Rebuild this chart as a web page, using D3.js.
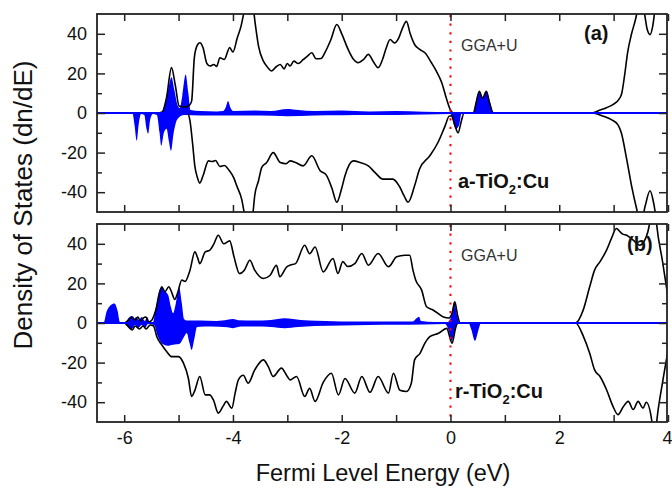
<!DOCTYPE html>
<html><head><meta charset="utf-8">
<script src="https://cdn.jsdelivr.net/npm/d3@7"></script>
<style>
body{margin:0;background:#fff}
svg{display:block}
text{font-family:"Liberation Sans",Arial,Helvetica,sans-serif}
</style>
</head><body>
<svg id="c" width="672" height="488"></svg>
<script>
// ---------- data: [energy (eV), DOS] ----------
const X_TICKS = [-6,-5,-4,-3,-2,-1,0,1,2,3,4];
const X_LABELS = [-6,-4,-2,0,2,4];
const Y_TICKS = [-40,-30,-20,-10,0,10,20,30,40];
const Y_LABELS = [-40,-20,0,20,40];

// panel (a) a-TiO2:Cu, total DOS spin up
const aTotalUp = [[-6.5,0],[-5.4,0],[-5.3,0.5],[-5.22,8],[-5.13,22.9],[-5.06,14],[-4.99,3.5],[-4.88,3],[-4.8,4],[-4.76,6],[-4.71,28],[-4.66,34],[-4.61,35.5],[-4.55,33],[-4.48,25],[-4.42,23.7],[-4.35,24.5],[-4.3,23.5],[-4.24,27.9],[-4.16,27],[-4.06,33],[-4.0,30.8],[-3.92,38],[-3.85,44],[-3.79,52],[-3.72,62],[-3.64,56],[-3.59,45],[-3.53,33.8],[-3.44,26.2],[-3.36,23],[-3.29,21.2],[-3.2,23.5],[-3.13,24.5],[-3.06,22.3],[-3.0,25],[-2.95,23.7],[-2.88,26.2],[-2.8,25],[-2.71,26.9],[-2.62,29],[-2.55,30.4],[-2.47,27.4],[-2.38,27.5],[-2.3,31],[-2.2,37],[-2.09,44.7],[-2.0,40],[-1.88,32],[-1.78,27],[-1.7,25.4],[-1.6,27],[-1.51,29.6],[-1.42,26],[-1.33,22.9],[-1.25,27],[-1.18,33],[-1.11,37.1],[-1.03,35.4],[-0.95,38],[-0.88,43],[-0.81,46.3],[-0.74,40],[-0.66,34.6],[-0.56,32],[-0.47,30.4],[-0.35,25.4],[-0.26,21.2],[-0.16,15.3],[-0.07,6.9],[0.01,1],[0.06,0],[0.42,0],[0.47,5],[0.53,11],[0.59,7.5],[0.66,11],[0.72,5],[0.79,0],[2.6,0],[2.75,1.5],[2.87,2.7],[3.0,4.5],[3.1,7],[3.15,10],[3.2,18.6],[3.26,31],[3.33,40],[3.4,47],[3.45,53],[3.52,58],[3.57,50],[3.62,42],[3.67,39.6],[3.72,44],[3.76,52],[3.85,62],[4.0,68]];
// panel (a) total DOS spin down
const aTotalDn = [[-6.5,0],[-4.84,0],[-4.79,-4],[-4.74,-16],[-4.7,-27],[-4.66,-32],[-4.61,-35.4],[-4.55,-31.7],[-4.45,-24.2],[-4.38,-24.5],[-4.32,-24],[-4.24,-27],[-4.16,-26.5],[-4.07,-29],[-3.98,-33],[-3.93,-36.8],[-3.84,-43.5],[-3.78,-52],[-3.7,-60],[-3.63,-50],[-3.6,-41.8],[-3.53,-34.2],[-3.47,-27.5],[-3.38,-25],[-3.26,-20],[-3.13,-25],[-3.02,-25.6],[-2.95,-24.2],[-2.85,-25],[-2.71,-26.7],[-2.55,-21.6],[-2.4,-29],[-2.28,-31.5],[-2.18,-38],[-2.09,-45.1],[-2.0,-38],[-1.94,-31.7],[-1.79,-24.2],[-1.66,-25],[-1.51,-26.7],[-1.39,-30],[-1.24,-33.4],[-1.06,-33.4],[-0.94,-37],[-0.85,-42],[-0.78,-45.1],[-0.66,-36.8],[-0.57,-28.4],[-0.38,-21.6],[-0.23,-14.9],[-0.1,-6.6],[-0.02,-1.5],[0.03,-1.5],[0.08,-6],[0.14,-10],[0.2,-4],[0.25,0],[2.6,0],[2.8,-1.5],[2.95,-3.2],[3.08,-6],[3.14,-9.9],[3.24,-23.3],[3.33,-36.8],[3.42,-48],[3.5,-56],[3.58,-47],[3.67,-39.3],[3.74,-46],[3.8,-56],[4.0,-68]];
// panel (a) Cu partial DOS
const aCuUp = [[-6.5,0],[-5.32,0],[-5.26,4],[-5.19,12],[-5.13,18],[-5.08,12],[-5.02,4],[-4.98,2.5],[-4.93,9],[-4.87,19.5],[-4.82,10],[-4.78,1.5],[-4.6,1],[-4.3,0.8],[-4.18,1],[-4.13,3],[-4.09,6],[-4.05,3],[-4.0,1],[-3.6,1.2],[-3.3,1],[-3.0,2],[-2.8,1.5],[-2.5,1],[-2.0,1.3],[-1.5,0.8],[-1.0,1],[-0.5,0.6],[0,0.3],[0.42,0],[0.47,6],[0.53,11],[0.59,7.5],[0.66,11],[0.72,6],[0.79,0],[4,0]];
const aCuDn = [[-6.5,0],[-5.85,0],[-5.81,-6],[-5.77,-14],[-5.73,-5],[-5.69,-0.5],[-5.63,-1],[-5.59,-8],[-5.56,-10.5],[-5.52,-3],[-5.47,-0.5],[-5.4,-1],[-5.35,-10],[-5.32,-16.6],[-5.27,-10],[-5.22,-8],[-5.18,-14],[-5.14,-19.1],[-5.09,-10],[-5.02,-3],[-4.9,-1],[-4.6,-1.3],[-4.0,-1.2],[-3.5,-1.3],[-3.0,-1.6],[-2.5,-1.2],[-2.0,-1.1],[-1.5,-1],[-1.0,-1],[-0.5,-0.7],[0,-0.5],[0.03,-3],[0.1,-8],[0.16,-6],[0.2,-0.5],[0.3,0],[4,0]];

// panel (b) r-TiO2:Cu, total DOS spin up
const bTotalUp = [[-6.5,0],[-6.0,0],[-5.92,1.5],[-5.85,3],[-5.8,1.5],[-5.75,3],[-5.7,1],[-5.65,2.5],[-5.6,3],[-5.55,0.5],[-5.49,1.5],[-5.4,8.2],[-5.31,18.3],[-5.25,15.8],[-5.18,18.3],[-5.12,15],[-5.07,11.9],[-5.02,15],[-4.94,21.7],[-4.88,21],[-4.79,26.7],[-4.7,35.9],[-4.65,33],[-4.61,30],[-4.51,35.9],[-4.43,36.7],[-4.35,40],[-4.27,44.3],[-4.17,40],[-4.06,41.5],[-3.98,33.4],[-3.88,25],[-3.79,26.7],[-3.69,31.7],[-3.6,26.7],[-3.44,22.5],[-3.32,24],[-3.2,29.2],[-3.14,23.4],[-3.01,28.4],[-2.95,29.2],[-2.85,30],[-2.68,39.3],[-2.59,35],[-2.49,38.4],[-2.34,25.8],[-2.16,32.6],[-2.07,25],[-1.98,31],[-1.89,28.5],[-1.76,30],[-1.63,35.1],[-1.51,29.2],[-1.33,35.1],[-1.14,28.4],[-0.99,33.4],[-0.84,34.2],[-0.75,34.2],[-0.69,26.7],[-0.64,21.7],[-0.53,16.6],[-0.44,8.2],[-0.32,6.6],[-0.14,3.2],[-0.03,2.5],[0.03,5],[0.08,10.7],[0.13,4],[0.18,0],[2.3,0],[2.44,6.5],[2.56,18.3],[2.65,26.7],[2.75,31],[2.87,36.8],[2.96,42.7],[3.05,47.7],[3.12,46],[3.16,45],[3.24,44.3],[3.36,41.8],[3.48,39.3],[3.6,43.5],[3.66,50],[3.71,60],[3.75,62],[3.79,50],[3.9,31],[4.0,13]];
const bTotalDn = [[-6.5,0],[-6.0,0],[-5.92,-2],[-5.85,-3.5],[-5.8,-1.5],[-5.72,-3],[-5.65,-1.5],[-5.6,-3],[-5.52,-1],[-5.46,-1.5],[-5.4,-6.9],[-5.31,-11],[-5.22,-14.4],[-5.13,-17],[-5.0,-17],[-4.91,-20.3],[-4.82,-27.9],[-4.76,-37.1],[-4.7,-34],[-4.61,-27],[-4.51,-36.3],[-4.43,-36.3],[-4.36,-38.8],[-4.27,-45.5],[-4.18,-42],[-4.12,-39.6],[-4.02,-43],[-3.96,-35.4],[-3.9,-28.7],[-3.81,-26.4],[-3.72,-30.4],[-3.6,-23.7],[-3.44,-18.6],[-3.35,-22],[-3.26,-27],[-3.11,-22.8],[-3.0,-27],[-2.95,-28.7],[-2.83,-27],[-2.68,-37.1],[-2.59,-33],[-2.49,-39.6],[-2.34,-30],[-2.19,-25.4],[-2.06,-36.3],[-1.94,-28],[-1.76,-35.4],[-1.63,-27],[-1.48,-35],[-1.33,-27],[-1.14,-35.4],[-1.05,-25.4],[-0.93,-34],[-0.81,-34.6],[-0.72,-30.4],[-0.66,-18.6],[-0.56,-15.3],[-0.47,-10.2],[-0.38,-6.9],[-0.22,-5.2],[-0.07,-2.7],[0.03,-10.2],[0.09,-3],[0.13,0],[2.3,0],[2.44,-6.5],[2.56,-15.3],[2.65,-23.7],[2.75,-27],[2.87,-33.7],[2.99,-42.2],[3.08,-46.3],[3.18,-42.2],[3.27,-39.6],[3.36,-43.7],[3.45,-39.6],[3.54,-43],[3.6,-40],[3.7,-49],[3.74,-58],[3.77,-56],[3.8,-48],[3.9,-30],[4.0,-14]];
const bCuUp = [[-6.5,0],[-6.38,0],[-6.32,6],[-6.25,9],[-6.18,9.9],[-6.12,6],[-6.08,0.5],[-5.98,0],[-5.92,2.5],[-5.86,3.5],[-5.82,2],[-5.78,3],[-5.73,1.5],[-5.68,3],[-5.62,1],[-5.58,3],[-5.53,0.5],[-5.47,0.5],[-5.42,8],[-5.36,16],[-5.31,18],[-5.25,16],[-5.19,14],[-5.14,8],[-5.1,5],[-5.05,10],[-4.99,18],[-4.94,10],[-4.9,2],[-4.85,1.2],[-4.6,1.2],[-4.3,1],[-4.1,1.6],[-4.0,2],[-3.9,1.4],[-3.6,1.2],[-3.3,1.5],[-3.05,2.4],[-2.9,2],[-2.6,1.2],[-2.3,1],[-2.0,0.8],[-1.5,0.7],[-1.0,0.7],[-0.7,0.7],[-0.62,2.5],[-0.58,3.2],[-0.54,1],[-0.3,0.5],[-0.05,0.5],[0.02,4],[0.07,11],[0.12,4],[0.17,0],[4,0]];
const bCuDn = [[-6.5,0],[-6.0,0],[-5.92,-2],[-5.86,-3],[-5.8,-1],[-5.74,-2.5],[-5.68,-1],[-5.62,-2.5],[-5.56,-0.5],[-5.45,-1],[-5.38,-7],[-5.3,-10.5],[-5.2,-11.5],[-5.1,-11],[-4.98,-10.5],[-4.9,-7],[-4.85,-5],[-4.8,-10],[-4.76,-13.6],[-4.71,-8],[-4.66,-2],[-4.4,-1.8],[-4.1,-2.2],[-4.0,-2.6],[-3.85,-1.8],[-3.6,-1.8],[-3.3,-2],[-3.05,-2.6],[-2.8,-2],[-2.5,-1.5],[-2.0,-1.2],[-1.5,-1],[-1.0,-0.9],[-0.5,-0.7],[-0.1,-0.5],[-0.03,-4],[0.02,-9],[0.07,-5],[0.12,-1],[0.2,0],[0.33,0],[0.38,-3],[0.45,-9],[0.52,-3],[0.56,0],[4,0]];

const panels = [
  {id:"a", up:aTotalUp, dn:aTotalDn, cuUp:aCuUp, cuDn:aCuDn, tag:"(a)", name:"a", top:14},
  {id:"b", up:bTotalUp, dn:bTotalDn, cuUp:bCuUp, cuDn:bCuDn, tag:"(b)", name:"r", top:224}
];

// ---------- layout ----------
const svg = d3.select("#c");
const L = 97, R = 667, PH = 198;
const x = d3.scaleLinear().domain([-6.5,4]).range([L, 668]);

panels.forEach((p, i) => {
  const y = d3.scaleLinear().domain([-50,50]).range([p.top+PH, p.top]);
  const g = svg.append("g");
  const clipId = "clip"+p.id;
  svg.append("clipPath").attr("id", clipId).append("rect")
    .attr("x", L).attr("y", p.top).attr("width", R-L).attr("height", PH);
  const plot = g.append("g").attr("clip-path", `url(#${clipId})`);

  const area = d3.area().x(d=>x(d[0])).y0(y(0)).y1(d=>y(d[1])).curve(d3.curveMonotoneX);
  plot.append("path").datum(p.cuUp).attr("d", area).attr("fill", "#0000ff");
  plot.append("path").datum(p.cuDn).attr("d", area).attr("fill", "#0000ff");

  const line = d3.line().x(d=>x(d[0])).y(d=>y(d[1])).curve(d3.curveMonotoneX);
  plot.append("path").datum(p.up).attr("d", line).attr("fill","none").attr("stroke","#000").attr("stroke-width",1.6);
  plot.append("path").datum(p.dn).attr("d", line).attr("fill","none").attr("stroke","#000").attr("stroke-width",1.6);

  plot.append("line").attr("x1", L).attr("x2", R).attr("y1", y(0)).attr("y2", y(0))
    .attr("stroke", "#0000ff").attr("stroke-width", 2.2);

  // Fermi level
  g.append("line").attr("x1", x(0)).attr("x2", x(0)).attr("y1", p.top+1).attr("y2", p.top+PH-1)
    .attr("stroke", "#ff0000").attr("stroke-width", 2).attr("stroke-dasharray", "2.2,6.4");

  // axes (inward ticks)
  const xb = d3.axisBottom(x).tickValues(X_TICKS).tickSize(-7).tickSizeOuter(0).tickPadding(9)
    .tickFormat(d => (i===1 && X_LABELS.includes(d)) ? String(d) : "");
  const xt = d3.axisTop(x).tickValues(X_TICKS).tickSize(-7).tickSizeOuter(0).tickFormat("");
  const yl = d3.axisLeft(y).tickValues(Y_TICKS).tickSize(-8).tickSizeOuter(0).tickPadding(10)
    .tickFormat(d => Y_LABELS.includes(d) ? String(d) : "");
  const yr = d3.axisRight(y).tickValues(Y_TICKS).tickSize(-8).tickSizeOuter(0).tickFormat("");

  const gxb = g.append("g").attr("transform", `translate(0,${p.top+PH})`).call(xb);
  const gxt = g.append("g").attr("transform", `translate(0,${p.top})`).call(xt);
  const gyl = g.append("g").attr("transform", `translate(${L},0)`).call(yl);
  const gyr = g.append("g").attr("transform", `translate(${R},0)`).call(yr);
  [gxb,gxt,gyl,gyr].forEach(a => {
    a.select(".domain").remove();
    a.selectAll("line").attr("stroke","#222").attr("stroke-width",1.5);
    a.selectAll("text").attr("font-size",18).attr("fill","#111")
      .style("font-family",'"Liberation Sans",Arial,sans-serif');
  });
  // keep the last label ("4") inside the window
  gxb.selectAll(".tick text").filter(d => d === 4).attr("text-anchor","end").attr("dx", 4);
  gyl.selectAll(".tick line").attr("x2", d => Y_LABELS.includes(d) ? 8 : 5);
  gyr.selectAll(".tick line").attr("x2", d => Y_LABELS.includes(d) ? -8 : -5);

  // frame
  g.append("rect").attr("x", L).attr("y", p.top).attr("width", R-L).attr("height", PH)
    .attr("fill","none").attr("stroke","#222").attr("stroke-width",1.8);

  // texts
  g.append("text").attr("x", 461).attr("y", p.top+37).attr("font-size", 16).attr("fill","#333").text("GGA+U");
  g.append("text").attr("x", p.id==="a" ? 584 : 627).attr("y", p.top + (p.id==="a" ? 26 : 27))
    .attr("font-size", 20).attr("font-weight","bold").attr("fill","#111").text(p.tag);
  const t = g.append("text").attr("x", p.id==="a" ? 458 : 455).attr("y", p.top+174)
    .attr("font-size", 20).attr("font-weight","bold").attr("fill","#111");
  t.append("tspan").text(p.name+"-TiO");
  t.append("tspan").attr("font-size", 13).attr("dy", 6).text("2");
  t.append("tspan").attr("dy", -6).text(":Cu");
});

svg.append("text").attr("transform","translate(32,205) rotate(-90)").attr("text-anchor","middle")
  .attr("font-size", 26).attr("fill","#111").text("Density of States (dn/dE)");
svg.append("text").attr("x", 383).attr("y", 481).attr("text-anchor","middle")
  .attr("font-size", 23.5).attr("fill","#111").text("Fermi Level Energy (eV)");
</script>
</body></html>
